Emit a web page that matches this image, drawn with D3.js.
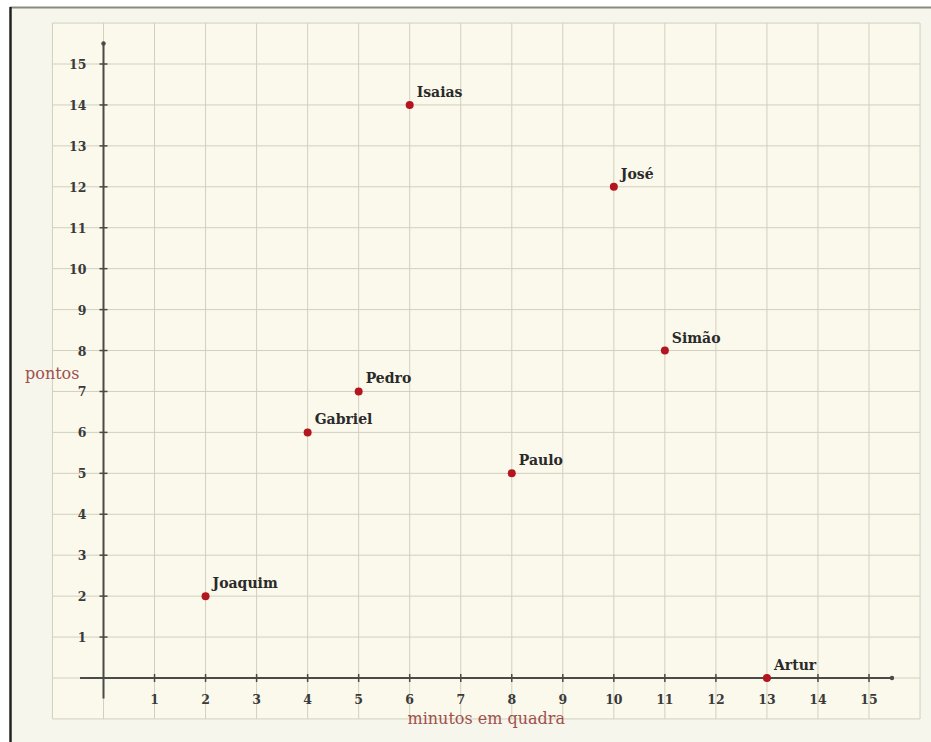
<!DOCTYPE html>
<html>
<head>
<meta charset="utf-8">
<script src="https://cdn.jsdelivr.net/npm/d3@7"></script>
<style>
  body { margin: 0; background: #fff; }
  svg { display: block; }
</style>
</head>
<body>
<svg id="chart" width="931" height="742"></svg>
<script>
// players: minutes on court vs points
const names = ["Joaquim", "Gabriel", "Pedro", "Isaias", "Paulo", "José", "Simão", "Artur"];
const minutos = [2, 4, 5, 6, 8, 10, 11, 13];
const pontos = [2, 6, 7, 14, 5, 12, 8, 0];
const xTicks = d3.range(1, 16);
const yTicks = d3.range(1, 16);

const svg = d3.select("#chart");
const font = "DejaVu Serif, serif";

// scales: 0 -> axis origin, 15 -> last tick
const x = d3.scaleLinear().domain([0, 15]).range([103.5, 869]);
const y = d3.scaleLinear().domain([0, 15]).range([678, 64]);

// frame
svg.append("rect").attr("x", 10).attr("y", 7).attr("width", 921).attr("height", 735)
  .attr("fill", "#f7f6ec");
svg.append("line").attr("x1", 10).attr("x2", 931).attr("y1", 7.5).attr("y2", 7.5)
  .attr("stroke", "#8a8a82").attr("stroke-width", 2);
svg.append("line").attr("x1", 10.5).attr("x2", 10.5).attr("y1", 7).attr("y2", 742)
  .attr("stroke", "#222").attr("stroke-width", 2.5);

// grid background
svg.append("rect")
  .attr("x", x(-1)).attr("y", y(16))
  .attr("width", x(16) - x(-1)).attr("height", y(-1) - y(16))
  .attr("fill", "#fbf9ec");

const grid = svg.append("g").attr("stroke", "#d2cfbd").attr("stroke-width", 1);
grid.selectAll(".gx").data(d3.range(-1, 17)).join("line")
  .attr("x1", d => x(d)).attr("x2", d => x(d))
  .attr("y1", y(16)).attr("y2", y(-1));
grid.selectAll(".gy").data(d3.range(-1, 17)).join("line")
  .attr("y1", d => y(d)).attr("y2", d => y(d))
  .attr("x1", x(-1)).attr("x2", x(16));

// axes
const axisColor = "#4a4a46";
const ax = svg.append("g").attr("stroke", axisColor);
ax.append("line").attr("x1", x(-0.46)).attr("x2", x(15.45)).attr("y1", y(0)).attr("y2", y(0))
  .attr("stroke-width", 2);
ax.append("line").attr("x1", x(0)).attr("x2", x(0)).attr("y1", y(-0.5)).attr("y2", y(15.5))
  .attr("stroke-width", 2);
svg.append("circle").attr("cx", x(15.45)).attr("cy", y(0)).attr("r", 2.2).attr("fill", axisColor);
svg.append("circle").attr("cx", x(0)).attr("cy", y(15.5)).attr("r", 2.2).attr("fill", axisColor);

ax.selectAll(".tx").data(xTicks).join("line")
  .attr("x1", d => x(d)).attr("x2", d => x(d))
  .attr("y1", y(0) - 4).attr("y2", y(0) + 4).attr("stroke-width", 1.5);
ax.selectAll(".ty").data(yTicks).join("line")
  .attr("y1", d => y(d)).attr("y2", d => y(d))
  .attr("x1", x(0) - 4).attr("x2", x(0) + 4).attr("stroke-width", 1.5);

svg.selectAll(".lx").data(xTicks).join("text")
  .attr("x", d => x(d)).attr("y", y(0) + 26)
  .attr("text-anchor", "middle")
  .attr("font-family", font).attr("font-size", 12.5).attr("font-weight", "bold").attr("fill", "#3a3a3a")
  .text(d => d);
svg.selectAll(".ly").data(yTicks).join("text")
  .attr("x", x(0) - 17).attr("y", d => y(d) + 5)
  .attr("text-anchor", "end")
  .attr("font-family", font).attr("font-size", 12.5).attr("font-weight", "bold").attr("fill", "#3a3a3a")
  .text(d => d);

// axis titles
svg.append("text").attr("x", x(7.5)).attr("y", 724)
  .attr("text-anchor", "middle")
  .attr("font-family", font).attr("font-size", 16).attr("fill", "#a0504c")
  .text("minutos em quadra");
svg.append("text").attr("x", 25).attr("y", 379)
  .attr("font-family", font).attr("font-size", 16).attr("fill", "#a0504c")
  .text("pontos");

// points
const data = names.map((n, i) => ({ name: n, m: minutos[i], p: pontos[i] }));
svg.selectAll(".pt").data(data).join("circle")
  .attr("cx", d => x(d.m)).attr("cy", d => y(d.p)).attr("r", 4)
  .attr("fill", "#b3161f");
svg.selectAll(".nm").data(data).join("text")
  .attr("x", d => x(d.m) + 7).attr("y", d => y(d.p) - 8)
  .attr("font-family", font).attr("font-size", 14).attr("font-weight", "bold").attr("fill", "#2a2a2a")
  .text(d => d.name);
</script>
</body>
</html>
